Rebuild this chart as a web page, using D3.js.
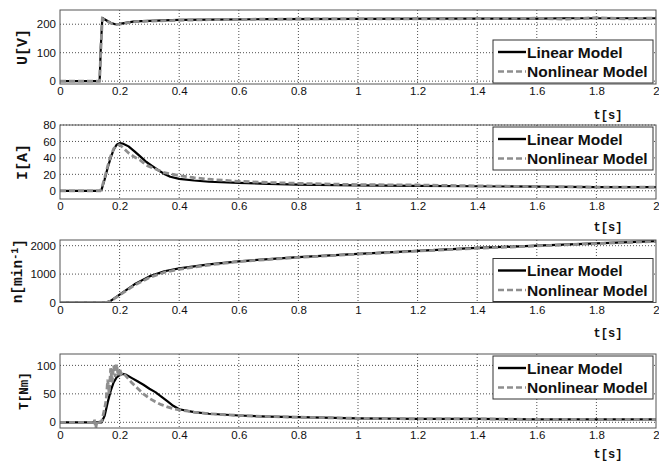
<!DOCTYPE html>
<html>
<head>
<meta charset="utf-8">
<script src="https://cdn.jsdelivr.net/npm/d3@7"></script>
<style>
  body { margin: 0; background: #fff; }
  .tick text { font-family: "Liberation Sans", Arial, sans-serif; font-size: 11.5px; fill: #111; }
  .ylab, .xlab { font-family: "Liberation Mono", "Courier New", monospace; font-weight: bold; fill: #111; }
  .leg text { font-family: "Liberation Sans", Arial, sans-serif; font-weight: bold; font-size: 15.5px; fill: #111; }
</style>
</head>
<body>
<script>
// x axis, shared by all four panels
var xTicks = [0, 0.2, 0.4, 0.6, 0.8, 1, 1.2, 1.4, 1.6, 1.8, 2];
var legendNames = ["Linear Model", "Nonlinear Model"];

// U [V]
var tU = [0, 0.133, 0.137, 0.142, 0.155, 0.17, 0.185, 0.2, 0.22, 0.25, 0.3, 0.4, 0.5, 0.7, 1.0, 1.3, 1.6, 1.7, 1.8, 1.9, 2.0];
var uLinear    = [0, 0, 120, 222, 214, 205, 200, 201, 205, 210, 212, 215, 216, 218, 219, 220, 220, 221, 221, 221, 221];
var uNonlinear = [0, 0, 110, 220, 212, 204, 199, 200, 204, 209, 211, 214, 216, 218, 219, 219, 221, 218, 223, 219, 222];
var uTicks = [0, 100, 200];

// I [A]
var tI = [0, 0.135, 0.14, 0.15, 0.16, 0.17, 0.18, 0.19, 0.2, 0.21, 0.23, 0.25, 0.27, 0.29, 0.31, 0.33, 0.35, 0.37, 0.4, 0.45, 0.5, 0.6, 0.7, 0.8, 1.0, 1.2, 1.4, 1.6, 1.8, 2.0];
var iLinear    = [0, 0, 2, 14, 28, 40, 50, 56, 58, 57.5, 54, 48, 41.5, 35, 30, 25, 20.5, 17, 14.5, 12.5, 11, 9.5, 8.5, 7.5, 6.5, 6, 5.5, 5, 4.5, 4.5];
var iNonlinear = [0, 0, 3, 16, 30, 42, 51, 55, 56, 53, 46, 41, 37, 31, 28, 25, 22, 20.5, 18.5, 16, 14, 11.5, 10, 9, 7.5, 7, 6, 5, 4.5, 4.5];
var iTicks = [0, 20, 40, 60, 80];

// n [min^-1]
var tN = [0, 0.155, 0.17, 0.2, 0.25, 0.3, 0.35, 0.4, 0.5, 0.6, 0.8, 1.0, 1.2, 1.4, 1.6, 1.8, 2.0];
var nLinear    = [0, 0, 60, 280, 640, 920, 1100, 1200, 1340, 1450, 1600, 1710, 1820, 1920, 2000, 2080, 2160];
var nNonlinear = [0, 0, 50, 260, 610, 880, 1060, 1170, 1320, 1440, 1590, 1700, 1810, 1910, 1990, 2075, 2150];
var nTicks = [0, 1000, 2000];

// T [Nm]
var tTl = [0, 0.14, 0.15, 0.16, 0.17, 0.18, 0.19, 0.2, 0.21, 0.22, 0.24, 0.26, 0.28, 0.3, 0.32, 0.34, 0.36, 0.38, 0.4, 0.45, 0.5, 0.6, 0.7, 0.8, 1.0, 1.2, 1.4, 1.6, 1.8, 2.0];
var torqueLinear = [0, 0, 12, 35, 55, 70, 79, 83, 85, 84, 78, 72, 66, 59, 53, 45, 37, 29, 23, 18, 15, 12, 10, 9, 7, 6, 6, 5, 5, 5];
var tTn = [0, 0.11, 0.115, 0.12, 0.125, 0.13, 0.14, 0.15, 0.155, 0.16, 0.165, 0.17, 0.175, 0.18, 0.185, 0.19, 0.195, 0.2, 0.205, 0.21, 0.22, 0.24, 0.26, 0.28, 0.3, 0.32, 0.34, 0.36, 0.38, 0.4, 0.45, 0.5, 0.6, 0.7, 0.8, 1.0, 1.2, 1.4, 1.6, 1.8, 2.0];
var torqueNonlinear = [0, 0, 5, -10, 3, 0, 2, 25, 40, 75, 50, 95, 70, 100, 80, 102, 82, 95, 85, 88, 82, 70, 60, 50, 42, 36, 31, 27, 24, 22, 18, 15, 12, 10, 9, 7, 6, 6, 5, 5, 5];
var torqueTicks = [0, 50, 100];

function zip(ts, vs) { return ts.map(function(t, i) { return [t, vs[i]]; }); }

var panels = [
  { top: 10,  bottom: 84,    domain: [-10, 250],  ticks: uTicks, label: ["U[V]"], lsize: 15, lx: 27, tx: 119,
    lin: zip(tU, uLinear), non: zip(tU, uNonlinear), legend: "bottom" },
  { top: 125, bottom: 199,   domain: [-10, 80],   ticks: iTicks, label: ["I[A]"], lsize: 15, lx: 27, tx: 231,
    lin: zip(tI, iLinear), non: zip(tI, iNonlinear), legend: "top" },
  { top: 240, bottom: 302.5, domain: [0, 2200],   ticks: nTicks, label: ["n[min", "-1", "]"], lsize: 14.5, lx: 22, tx: 337,
    lin: zip(tN, nLinear), non: zip(tN, nNonlinear), legend: "bottom" },
  { top: 354, bottom: 428,   domain: [-10, 120],  ticks: torqueTicks, label: ["T[Nm]"], lsize: 12.5, lx: 28, tx: 458,
    lin: zip(tTl, torqueLinear), non: zip(tTn, torqueNonlinear), legend: "top" }
];

var width = 659, height = 461;
var x = d3.scaleLinear().domain([0, 2]).range([60, 656]);

var svg = d3.select("body").append("svg")
    .attr("width", width)
    .attr("height", height);

panels.forEach(function(p, k) {
  var y = d3.scaleLinear().domain(p.domain).range([p.bottom, p.top]);
  var g = svg.append("g").attr("class", "panel");

  var clipId = "clip" + k;
  g.append("clipPath").attr("id", clipId)
    .append("rect")
      .attr("x", x(0)).attr("y", p.top)
      .attr("width", x(2) - x(0)).attr("height", p.bottom - p.top);

  // grid
  g.append("g").selectAll("line")
      .data(xTicks.slice(1, -1))
    .enter().append("line")
      .attr("x1", function(d) { return x(d); })
      .attr("x2", function(d) { return x(d); })
      .attr("y1", p.top).attr("y2", p.bottom)
      .attr("stroke", "#222").attr("stroke-width", 0.8)
      .attr("stroke-dasharray", "1,2");
  g.append("g").selectAll("line")
      .data(p.ticks)
    .enter().append("line")
      .attr("x1", x(0)).attr("x2", x(2))
      .attr("y1", function(d) { return y(d); })
      .attr("y2", function(d) { return y(d); })
      .attr("stroke", "#222").attr("stroke-width", 0.8)
      .attr("stroke-dasharray", "1,2");

  // axes
  g.append("g")
      .attr("transform", "translate(0," + p.bottom + ")")
      .call(d3.axisBottom(x).tickValues(xTicks).tickSize(0).tickPadding(3)
        .tickFormat(function(d) { return String(+d.toFixed(1)); }))
      .call(function(a) { a.select(".domain").remove(); });
  g.append("g")
      .attr("transform", "translate(" + x(0) + ",0)")
      .call(d3.axisLeft(y).tickValues(p.ticks).tickSize(0).tickPadding(4).tickFormat(d3.format("d")))
      .call(function(a) { a.select(".domain").remove(); });

  // series
  var line = d3.line()
      .x(function(d) { return x(d[0]); })
      .y(function(d) { return y(d[1]); });
  var lines = g.append("g").attr("clip-path", "url(#" + clipId + ")");
  lines.append("path")
      .datum(p.lin)
      .attr("d", line)
      .attr("fill", "none")
      .attr("stroke", "#000")
      .attr("stroke-width", 2.2)
      .attr("stroke-linejoin", "round");
  lines.append("path")
      .datum(p.non)
      .attr("d", line)
      .attr("fill", "none")
      .attr("stroke", "#8e8e8e")
      .attr("stroke-width", 2.8)
      .attr("stroke-dasharray", "6,3");

  // box
  g.append("rect")
      .attr("x", x(0)).attr("y", p.top)
      .attr("width", x(2) - x(0)).attr("height", p.bottom - p.top)
      .attr("fill", "none")
      .attr("stroke", "#555")
      .attr("stroke-width", 1);

  // y label
  var yl = g.append("text")
      .attr("class", "ylab")
      .attr("transform", "translate(" + p.lx + "," + ((p.top + p.bottom) / 2) + ") rotate(-90)")
      .attr("text-anchor", "middle")
      .style("font-size", p.lsize + "px");
  yl.append("tspan").text(p.label[0]);
  if (p.label.length > 1) {
    yl.append("tspan").attr("dy", "-0.45em").style("font-size", "10px").text(p.label[1]);
    yl.append("tspan").attr("dy", "0.45em").text(p.label[2]);
  }

  // x label
  g.append("text")
      .attr("class", "xlab")
      .attr("x", 608)
      .attr("y", p.tx)
      .attr("text-anchor", "middle")
      .style("font-size", "12px")
      .text("t[s]");

  // legend
  var lw = 160, lh = 43;
  var ly = p.legend === "top" ? p.top + 2 : p.bottom - lh - 1;
  var leg = g.append("g").attr("class", "leg")
      .attr("transform", "translate(493," + ly + ")");
  leg.append("rect")
      .attr("width", lw).attr("height", lh)
      .attr("fill", "#fff")
      .attr("stroke", "#333")
      .attr("stroke-width", 1);
  legendNames.forEach(function(name, i) {
    var cy = 12 + i * 19.5;
    leg.append("line")
        .attr("x1", 5).attr("x2", 33)
        .attr("y1", cy).attr("y2", cy)
        .attr("stroke", i === 0 ? "#000" : "#8e8e8e")
        .attr("stroke-width", 2.4)
        .attr("stroke-dasharray", i === 0 ? null : "6,3");
    leg.append("text")
        .attr("x", 34)
        .attr("y", cy + 5.5)
        .text(name);
  });
});
</script>
</body>
</html>
